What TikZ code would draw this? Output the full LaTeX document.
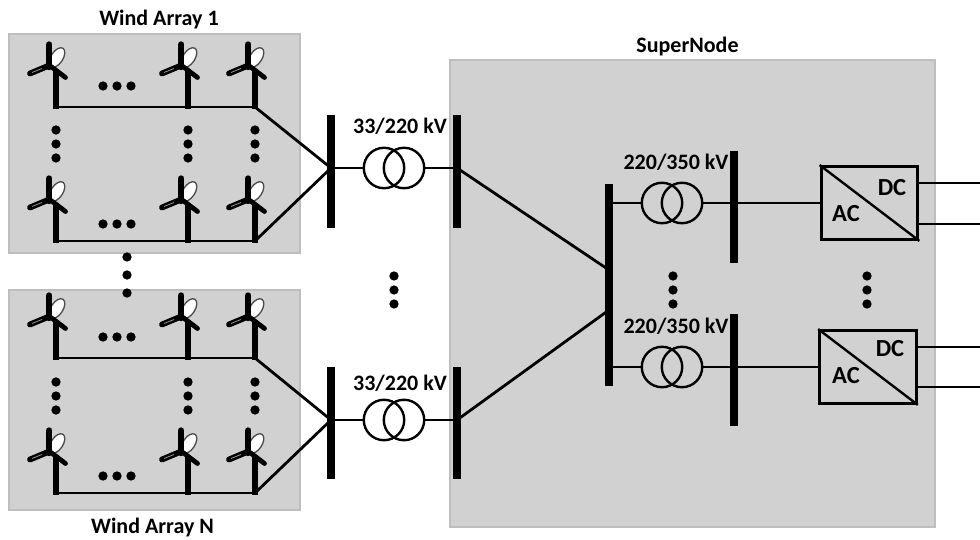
\documentclass[tikz,border=0pt]{standalone}
\usepackage{fontspec}
\setmainfont{Carlito}
\usetikzlibrary{calc}
\tikzset{
  every picture/.style={
    x=0.0265cm, y=-0.0265cm
  },
  area/.style={
    fill=areagray, draw=areaedge, line width=1.5pt
  },
  lbl/.style={
    font=\fontsize{16.6}{19}\selectfont\bfseries, inner sep=0pt
  },
  biglbl/.style={
    font=\fontsize{18.5}{21}\selectfont\bfseries, inner sep=0pt
  },
  wire/.style={
    line width=2.1pt
  },
  bus/.style={
    fill=black, inner sep=0pt, minimum width=5.6pt
  },
  dot/.style={
    circle, fill=black, minimum width=7pt, inner sep=0pt
  },
  coil/.style={
    circle, draw, line width=1.8pt, inner sep=0pt, minimum width=30.5pt
  },
  conv/.style={
    draw, line width=2.2pt, inner sep=0pt,
    minimum width=73pt, minimum height=55pt
  },
  turbine/.pic={
    \draw [line width=4.4pt] (0,2) -- (0,-38);
    \draw [draw=black!70, fill=white, line width=1pt, rotate around={-33:(1,-49.5)}]
      (1,-49.5) ellipse [x radius=6, y radius=11];
    \draw [line width=4.8pt, line cap=round] (-6.7,-62.5) -- (-6.7,-40);
    \draw [line width=4.4pt, line cap=round] (-26,-33.5) -- (-8,-41);
    \draw [black!40, line width=0.6pt] (-24,-34.5) -- (-14,-38.5);
    \draw [line width=3.6pt, line cap=round] (-5,-40.5) -- (9.5,-29.5);
  },
  array row/.pic={
    \foreach \tx in {56,188,255}
      \path (\tx,0) pic {turbine};
    \draw [wire, line cap=rect] (56,0) -- (255,0);
  }
}
\definecolor{areagray}{HTML}{D1D1D1}
\definecolor{areaedge}{HTML}{BEBEBE}

\begin{document}
\begin{tikzpicture}
  \useasboundingbox (0,0) rectangle (980,540);
  % areas
  \draw [area] (9,34) rectangle (300,253);
  \draw [area] (9,290) rectangle (300,510);
  \draw [area] (450,60) rectangle (935,527);

  \node [lbl] (wind1) at (159,20) {Wind Array 1};
  \node [lbl] (windN) at (152.5,528) {Wind Array N};
  \node [lbl] (super) at (687.5,47) {SuperNode};

  % wind arrays
  \foreach \ay in {107,241,358,493}
    \path (0,\ay) pic {array row};
  \foreach \ay in {86,224,337,476}
    \foreach \dx in {103,117,131}
      \node [dot] (d\dx-\ay) at (\dx,\ay) {};
  \foreach \ay in {130,144,158,382,396,410}
    \foreach \dx in {56,188,255}
      \node [dot] (v\dx-\ay) at (\dx,\ay) {};
  \foreach \ay in {257,275,293}
    \node [dot] (m\ay) at (127,\ay) {};

  % buses
  \node [bus, minimum height=85pt] (b1) at (331,171.5) {};
  \node [bus, minimum height=85pt] (b2) at (331,423) {};
  \node [bus, minimum height=85pt] (c1) at (457,171.5) {};
  \node [bus, minimum height=85pt] (c2) at (457,423) {};
  \node [bus, minimum height=153pt] (s) at (609,285) {};
  \node [bus, minimum height=84pt] (t1) at (734,207) {};
  \node [bus, minimum height=84pt] (t2) at (734,370) {};

  \coordinate (a1) at (255,107);
  \coordinate (a2) at (255,241);
  \coordinate (a3) at (255,358);
  \coordinate (a4) at (255,493);
  \coordinate (j1) at (331,168);
  \coordinate (j2) at (331,420);
  \coordinate (j3) at (457,168);
  \coordinate (j4) at (457,420);
  \draw [wire] (a1) -- (j1);
  \draw [wire] (a2) -- (j1);
  \draw [wire] (a3) -- (j2);
  \draw [wire] (a4) -- (j2);
  \draw [wire] (j3) -- (s.center |- 0,270);
  \draw [wire] (j4) -- (s.center |- 0,310);

  % transformers
  \node [coil] (x1a) at (384,168) {};
  \node [coil] (x1b) at (404,168) {};
  \node [coil] (x2a) at (384,420) {};
  \node [coil] (x2b) at (404,420) {};
  \node [coil] (y1a) at (662,203) {};
  \node [coil] (y1b) at (682,203) {};
  \node [coil] (y2a) at (662,367) {};
  \node [coil] (y2b) at (682,367) {};
  \draw [wire] (j1) -- (x1a);
  \draw [wire] (x1b) -- (j3);
  \draw [wire] (j2) -- (x2a);
  \draw [wire] (x2b) -- (j4);
  \draw [wire] (s.center |- y1a) -- (y1a);
  \draw [wire] (y1b) -- (y1b -| t1);
  \draw [wire] (s.center |- y2a) -- (y2a);
  \draw [wire] (y2b) -- (y2b -| t2);

  \node [lbl] (k1) at (400,126) {33/220 kV};
  \node [lbl] (k2) at (400,383) {33/220 kV};
  \node [lbl] (k3) at (676,162) {220/350 kV};
  \node [lbl] (k4) at (676,326) {220/350 kV};

  % converters
  \node [conv] (v1) at (869.5,203) {};
  \node [conv] (v2) at (868,367) {};
  \draw [line width=1.8pt] (v1.north west) -- (v1.south east);
  \draw [line width=1.8pt] (v2.north west) -- (v2.south east);
  \draw [wire] (t1.center |- v1) -- (v1);
  \draw [wire] (t2.center |- v2) -- (v2);
  \node [biglbl] (dc1) at (892,188) {DC};
  \node [biglbl] (ac1) at (846,214) {AC};
  \node [biglbl] (dc2) at (890,349) {DC};
  \node [biglbl] (ac2) at (846,376) {AC};

  \coordinate (o1) at (980,183);
  \coordinate (o2) at (980,224);
  \coordinate (o3) at (980,347);
  \coordinate (o4) at (980,387);
  \draw [wire] (o1 -| v1.east) -- (o1);
  \draw [wire] (o2 -| v1.east) -- (o2);
  \draw [wire] (o3 -| v2.east) -- (o3);
  \draw [wire] (o4 -| v2.east) -- (o4);

  % dots
  \foreach \ay in {276,290,304} {
    \node [dot] (p\ay) at (394,\ay) {};
    \node [dot] (q\ay) at (673,\ay) {};
    \node [dot] (r\ay) at (867,\ay) {};
  }
\end{tikzpicture}
\end{document}
